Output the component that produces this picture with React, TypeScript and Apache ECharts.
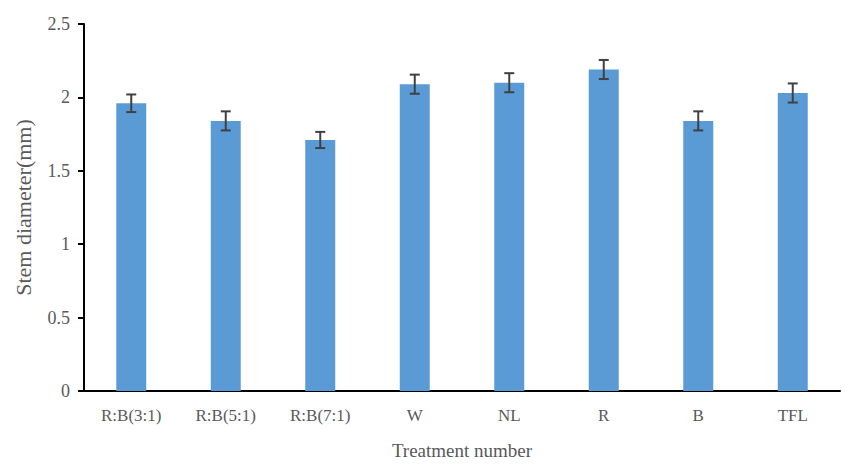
import React, { useEffect, useRef } from "react";
import * as echarts from "echarts";

const categories = ["R:B(3:1)", "R:B(5:1)", "R:B(7:1)", "W", "NL", "R", "B", "TFL"];
const stemDiameter = [1.96, 1.84, 1.71, 2.09, 2.10, 2.19, 1.84, 2.03];
const stdError = [0.06, 0.065, 0.055, 0.065, 0.065, 0.065, 0.065, 0.065];
const yTicks = { min: 0, max: 2.5, interval: 0.5 };

export default function App() {
  const ref = useRef<HTMLDivElement>(null);
  useEffect(() => {
    if (!ref.current) return;
    const chart = echarts.init(ref.current, undefined, { renderer: "svg" });
    const font = "'Liberation Serif', 'Times New Roman', serif";
    const errData = categories.map((_, i) => [i, stemDiameter[i] - stdError[i], stemDiameter[i] + stdError[i]]);
    chart.setOption({
      animation: false,
      backgroundColor: "#ffffff",
      grid: { left: 84, right: 5, top: 24, bottom: 73, containLabel: false },
      xAxis: {
        type: "category",
        data: categories,
        name: "Treatment number",
        nameLocation: "middle",
        nameGap: 50,
        nameTextStyle: { fontFamily: font, fontSize: 19, color: "#595959" },
        axisLine: { lineStyle: { color: "#000000", width: 2 } },
        axisTick: { show: false },
        axisLabel: { fontFamily: font, fontSize: 17, color: "#595959", margin: 16 },
      },
      yAxis: {
        type: "value",
        min: yTicks.min,
        max: yTicks.max,
        interval: yTicks.interval,
        name: "Stem diameter(mm)",
        nameLocation: "middle",
        nameGap: 50,
        nameRotate: 90,
        nameTextStyle: { fontFamily: font, fontSize: 22, color: "#595959" },
        axisLine: { show: true, lineStyle: { color: "#000000", width: 2 } },
        axisTick: { show: true, inside: false, length: 6, lineStyle: { color: "#000000", width: 2 } },
        splitLine: { show: false },
        axisLabel: { fontFamily: font, fontSize: 18, color: "#595959", margin: 14 },
      },
      series: [
        {
          type: "bar",
          data: stemDiameter,
          barWidth: 30,
          itemStyle: { color: "#5B9BD5" },
        },
        {
          type: "custom",
          data: errData,
          z: 10,
          renderItem: (params: any, api: any) => {
            const x = api.value(0);
            const lo = api.coord([x, api.value(1)]);
            const hi = api.coord([x, api.value(2)]);
            const cap = 5;
            const style = { stroke: "#404040", lineWidth: 2, fill: "none" };
            return {
              type: "group",
              children: [
                { type: "line", shape: { x1: lo[0], y1: lo[1], x2: hi[0], y2: hi[1] }, style },
                { type: "line", shape: { x1: hi[0] - cap, y1: hi[1], x2: hi[0] + cap, y2: hi[1] }, style },
                { type: "line", shape: { x1: lo[0] - cap, y1: lo[1], x2: lo[0] + cap, y2: lo[1] }, style },
              ],
            };
          },
        },
      ],
    });
    return () => chart.dispose();
  }, []);
  return <div ref={ref} style={{ position: "absolute", left: 0, top: 0, width: 845, height: 465 }} />;
}
